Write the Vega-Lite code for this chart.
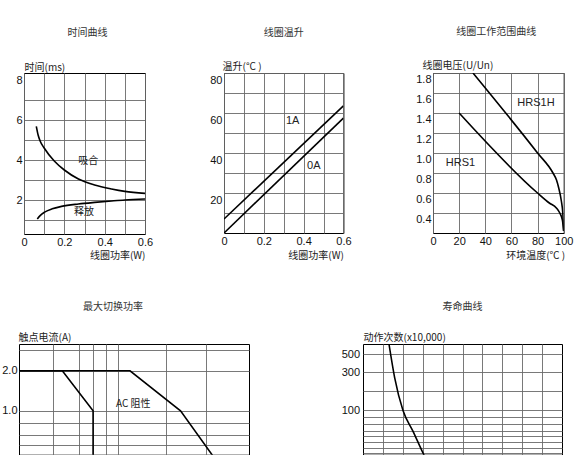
{
  "$schema": "https://vega.github.io/schema/vega-lite/v6.json",
  "padding": {"left": 1, "top": 26, "right": 0, "bottom": 0},
  "background": "white",
  "config": {
    "view": {"stroke": "#000", "strokeWidth": 1},
    "axis": {
      "grid": true, "gridColor": "#6a6a6a", "gridWidth": 0.9,
      "domain": false, "ticks": false, "tickSize": 0,
      "labelFont": "Liberation Sans", "labelFontSize": 11, "labelColor": "#111",
      "labelPadding": 2, "labelFlush": false, "labelOverlap": false,
      "titleFont": "Noto Sans CJK SC", "titleFontSize": 10, "titleFontWeight": "normal",
      "titleColor": "#222", "titlePadding": 0
    },
    "title": {"font": "Noto Sans CJK SC", "fontSize": 10, "fontWeight": "normal", "color": "#333", "frame": "group", "anchor": "middle"},
    "text": {"font": "Noto Sans CJK SC", "fontSize": 10, "color": "#222"}
  },
  "spacing": 40,
  "vconcat": [
    {
      "bounds": "flush",
      "spacing": 1,
      "hconcat": [
        {"width": 3.4, "height": 1, "view": {"stroke": null}, "data": {"values": [{"v": 0}]}, "mark": {"type": "point", "opacity": 0}},
        {
          "width": 121, "height": 161,
          "title": {"text": "时间曲线", "dx": 3, "offset": 24},
          "layer": [
            {
              "data": {"values": [
                {"series": "吸合", "x": 0.061, "y": 5.68}, {"series": "吸合", "x": 0.07, "y": 5.25},
                {"series": "吸合", "x": 0.08, "y": 4.95}, {"series": "吸合", "x": 0.1, "y": 4.6},
                {"series": "吸合", "x": 0.15, "y": 3.95}, {"series": "吸合", "x": 0.2, "y": 3.5},
                {"series": "吸合", "x": 0.27, "y": 3.05}, {"series": "吸合", "x": 0.35, "y": 2.75},
                {"series": "吸合", "x": 0.434, "y": 2.55}, {"series": "吸合", "x": 0.5, "y": 2.43},
                {"series": "吸合", "x": 0.6, "y": 2.33},
                {"series": "释放", "x": 0.066, "y": 1.05}, {"series": "释放", "x": 0.08, "y": 1.22},
                {"series": "释放", "x": 0.1, "y": 1.38}, {"series": "释放", "x": 0.14, "y": 1.56},
                {"series": "释放", "x": 0.186, "y": 1.68}, {"series": "释放", "x": 0.27, "y": 1.8},
                {"series": "释放", "x": 0.35, "y": 1.88}, {"series": "释放", "x": 0.434, "y": 1.95},
                {"series": "释放", "x": 0.5, "y": 2.0}, {"series": "释放", "x": 0.6, "y": 2.05}
              ]},
              "mark": {"type": "line", "interpolate": "monotone", "color": "#000", "strokeWidth": 1.6, "clip": true},
              "encoding": {
                "x": {"field": "x", "type": "quantitative", "scale": {"domain": [0, 0.6], "nice": false},
                  "axis": {"title": "线圈功率(W)", "values": [0, 0.1, 0.2, 0.3, 0.4, 0.5, 0.6], "format": ".1~f",
                    "tickCount": 100, "labelOverlap": false,
                    "labelExpr": "round(datum.value * 10) % 2 == 0 ? datum.label : ''",
                    "titleX": 121, "titleY": 24, "titleAlign": "right", "titleBaseline": "alphabetic"}},
                "y": {"field": "y", "type": "quantitative", "scale": {"domain": [0.3, 8.35], "nice": false, "zero": false},
                  "axis": {"title": "时间(ms)", "values": [1, 2, 3, 4, 5, 6, 7, 8], "format": "d",
                    "tickCount": 100, "labelOverlap": false,
                    "labelExpr": "datum.value % 2 == 0 ? datum.label : ''",
                    "gridOpacity": {"condition": {"test": "datum.value == 8", "value": 0}, "value": 1},
                    "titleAngle": 0, "titleX": 0, "titleY": -3, "titleAlign": "left", "titleBaseline": "alphabetic"}},
                "detail": {"field": "series"}
              }
            },
            {
              "data": {"values": [
                {"label": "吸合", "x": 0.318, "y": 3.96},
                {"label": "释放", "x": 0.298, "y": 1.38}
              ]},
              "mark": {"type": "text"},
              "encoding": {
                "x": {"field": "x", "type": "quantitative"},
                "y": {"field": "y", "type": "quantitative"},
                "text": {"field": "label"}
              }
            }
          ]
        },
        {"width": 76.6, "height": 1, "view": {"stroke": null}, "data": {"values": [{"v": 0}]}, "mark": {"type": "point", "opacity": 0}},
        {
          "width": 119.4, "height": 160,
          "title": {"text": "线圈温升", "offset": 24},
          "layer": [
            {
              "data": {"values": [
                {"series": "1A", "x": 0, "y": 7}, {"series": "1A", "x": 0.6, "y": 63.6},
                {"series": "0A", "x": 0, "y": 0}, {"series": "0A", "x": 0.6, "y": 57.4}
              ]},
              "mark": {"type": "line", "color": "#000", "strokeWidth": 1.6, "clip": true},
              "encoding": {
                "x": {"field": "x", "type": "quantitative", "scale": {"domain": [0, 0.6], "nice": false},
                  "axis": {"title": "线圈功率(W)", "values": [0, 0.1, 0.2, 0.3, 0.4, 0.5, 0.6], "format": ".1~f",
                    "tickCount": 100, "labelOverlap": false,
                    "labelExpr": "round(datum.value * 10) % 2 == 0 ? datum.label : ''",
                    "titleX": 119.4, "titleY": 25, "titleAlign": "right", "titleBaseline": "alphabetic"}},
                "y": {"field": "y", "type": "quantitative", "scale": {"domain": [0, 80], "nice": false},
                  "axis": {"title": "温升(°C )", "values": [10, 20, 30, 40, 50, 60, 70, 80],
                    "tickCount": 100, "labelOverlap": false,
                    "labelExpr": "datum.value % 20 == 0 ? datum.label : ''", "labelOffset": 7,
                    "titleAngle": 0, "titleX": -2, "titleY": -3.5, "titleAlign": "left", "titleBaseline": "alphabetic"}},
                "detail": {"field": "series"}
              }
            },
            {
              "data": {"values": [
                {"label": "1A", "x": 0.345, "y": 55.8},
                {"label": "0A", "x": 0.451, "y": 33.6}
              ]},
              "mark": {"type": "text", "font": "Liberation Sans", "fontSize": 11},
              "encoding": {
                "x": {"field": "x", "type": "quantitative"},
                "y": {"field": "y", "type": "quantitative"},
                "text": {"field": "label"}
              }
            }
          ]
        },
        {"width": 86.3, "height": 1, "view": {"stroke": null}, "data": {"values": [{"v": 0}]}, "mark": {"type": "point", "opacity": 0}},
        {
          "width": 130.7, "height": 160,
          "title": {"text": "线圈工作范围曲线", "dx": -2, "offset": 24},
          "layer": [
            {
              "data": {"values": [
                {"series": "HRS1H", "x": 30.6, "y": 1.8}, {"series": "HRS1H", "x": 80, "y": 1.0},
                {"series": "HRS1H", "x": 91.8, "y": 0.8}, {"series": "HRS1H", "x": 94.5, "y": 0.73},
                {"series": "HRS1H", "x": 96.2, "y": 0.65}, {"series": "HRS1H", "x": 98.2, "y": 0.52},
                {"series": "HRS1H", "x": 99.3, "y": 0.4}, {"series": "HRS1H", "x": 100, "y": 0.22},
                {"series": "HRS1", "x": 20, "y": 1.4}, {"series": "HRS1", "x": 80, "y": 0.6},
                {"series": "HRS1", "x": 89, "y": 0.5}, {"series": "HRS1", "x": 94.4, "y": 0.45},
                {"series": "HRS1", "x": 97, "y": 0.4}, {"series": "HRS1", "x": 99, "y": 0.33},
                {"series": "HRS1", "x": 100, "y": 0.22}
              ]},
              "mark": {"type": "line", "interpolate": "monotone", "color": "#000", "strokeWidth": 1.6, "clip": true},
              "encoding": {
                "x": {"field": "x", "type": "quantitative", "scale": {"domain": [0, 100], "nice": false},
                  "axis": {"title": "环境温度(℃ )", "values": [0, 20, 40, 60, 80, 100],
                    "tickCount": 100, "labelOverlap": false,
                    "titleX": 131.7, "titleY": 25, "titleAlign": "right", "titleBaseline": "alphabetic"}},
                "y": {"field": "y", "type": "quantitative", "scale": {"domain": [0.2, 1.8], "nice": false, "zero": false},
                  "axis": {"title": "线圈电压(U/Un)", "values": [0.4, 0.6, 0.8, 1.0, 1.2, 1.4, 1.6, 1.8], "format": ".1f",
                    "tickCount": 100, "labelOverlap": false, "labelOffset": 6,
                    "titleAngle": 0, "titleX": -11, "titleY": -4.5, "titleAlign": "left", "titleBaseline": "alphabetic"}},
                "detail": {"field": "series"}
              }
            },
            {
              "data": {"values": [
                {"label": "HRS1H", "x": 78.8, "y": 1.497},
                {"label": "HRS1", "x": 21, "y": 0.897}
              ]},
              "mark": {"type": "text", "font": "Liberation Sans", "fontSize": 11},
              "encoding": {
                "x": {"field": "x", "type": "quantitative"},
                "y": {"field": "y", "type": "quantitative"},
                "text": {"field": "label"}
              }
            }
          ]
        }
      ]
    },
    {
      "bounds": "flush",
      "spacing": 1,
      "hconcat": [
        {
          "width": 230, "height": 110.7,
          "title": {"text": "最大切换功率", "dx": -21, "offset": 20},
          "layer": [
            {
              "data": {"values": [
                {"series": "DC", "x": 9, "y": 2}, {"series": "DC", "x": 18.3, "y": 2},
                {"series": "DC", "x": 30.3, "y": 1}, {"series": "DC", "x": 30.3, "y": 0.3},
                {"series": "AC", "x": 9, "y": 2}, {"series": "AC", "x": 55.5, "y": 2},
                {"series": "AC", "x": 127, "y": 1}, {"series": "AC", "x": 225, "y": 0.43}
              ]},
              "mark": {"type": "line", "color": "#000", "strokeWidth": 1.6, "clip": true},
              "encoding": {
                "x": {"field": "x", "type": "quantitative", "scale": {"type": "log", "domain": [9, 390], "nice": false},
                  "axis": {"title": null, "labels": false, "tickCount": 100, "values": [15.7, 24.1, 30.3, 37.7, 45.6, 100.8, 194]}},
                "y": {"field": "y", "type": "quantitative", "scale": {"type": "log", "domain": [0.467, 3.18], "nice": false},
                  "axis": {"title": "触点电流(A)", "values": [0.55, 0.66, 0.81, 1, 2, 2.88],
                    "tickCount": 100, "labelOverlap": false,
                    "labelExpr": "datum.value == 1 || datum.value == 2 ? format(datum.value, '.1f') : ''",
                    "titleAngle": 0, "titleX": -1, "titleY": -4, "titleAlign": "left", "titleBaseline": "alphabetic"}},
                "detail": {"field": "series"}
              }
            },
            {
              "data": {"values": [{"label": "AC 阻性", "x": 58.5, "y": 1.13}]},
              "mark": {"type": "text"},
              "encoding": {
                "x": {"field": "x", "type": "quantitative"},
                "y": {"field": "y", "type": "quantitative"},
                "text": {"field": "label"}
              }
            }
          ]
        },
        {"width": 111.4, "height": 1, "view": {"stroke": null}, "data": {"values": [{"v": 0}]}, "mark": {"type": "point", "opacity": 0}},
        {
          "width": 199, "height": 110.7,
          "title": {"text": "寿命曲线", "offset": 20},
          "data": {"values": [
            {"x": 0.261, "y": 669}, {"x": 0.318, "y": 256}, {"x": 0.402, "y": 100},
            {"x": 0.503, "y": 55}, {"x": 0.603, "y": 29.6}, {"x": 0.625, "y": 26}
          ]},
          "mark": {"type": "line", "interpolate": "monotone", "color": "#000", "strokeWidth": 1.6, "clip": true},
          "encoding": {
            "x": {"field": "x", "type": "quantitative", "scale": {"domain": [0, 2], "nice": false},
              "axis": {"title": null, "labels": false, "tickCount": 100, "values": [0.2, 0.4, 0.6, 0.8, 1.0, 1.2, 1.4, 1.6, 1.8]}},
            "y": {"field": "y", "type": "quantitative", "scale": {"type": "log", "domain": [28.2, 669], "nice": false},
              "axis": {"title": "动作次数(x10,000)", "values": [29.4, 34.5, 40, 48, 56, 68, 82.5, 100, 174, 300, 500],
                "format": "d", "labelPadding": 3.5, "tickCount": 100, "labelOverlap": false,
                "labelExpr": "indexof([100, 300, 500], datum.value) >= 0 ? datum.label : ''",
                "titleAngle": 0, "titleX": 0, "titleY": -4, "titleAlign": "left", "titleBaseline": "alphabetic"}}
          }
        }
      ]
    }
  ]
}
